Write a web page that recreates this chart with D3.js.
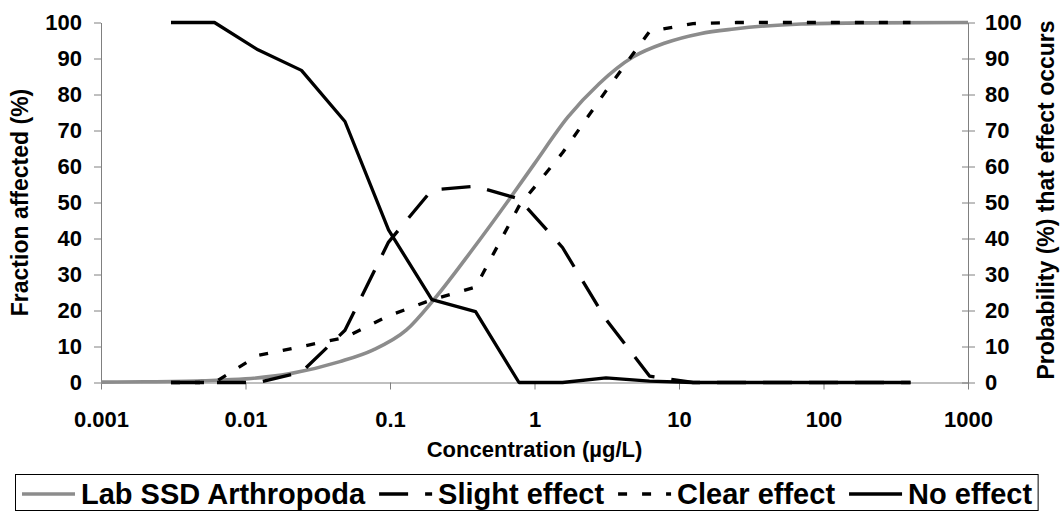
<!DOCTYPE html>
<html>
<head>
<meta charset="utf-8">
<script src="https://cdn.jsdelivr.net/npm/d3@7"></script>
<style>
  body { margin: 0; background: #fff; }
  svg { display: block; font-family: "Liberation Sans", Arial, sans-serif; font-weight: bold; }
</style>
</head>
<body>
<div id="container"></div>
<script>
const width = 1063;
const height = 512;

// x tick values and labels
const xTicks = [0.001, 0.01, 0.1, 1, 10, 100, 1000];
const xTickLabels = ["0.001", "0.01", "0.1", "1", "10", "100", "1000"];
const yTicks = [0, 10, 20, 30, 40, 50, 60, 70, 80, 90, 100];

// Lab SSD Arthropoda
const ssdConc = [0.001, 0.002, 0.005, 0.01, 0.02, 0.045, 0.076, 0.13, 0.2, 0.37, 0.7, 1, 1.7, 2.8, 4.8, 8, 14, 24, 70, 200, 1000];
const ssdValue = [0.1, 0.2, 0.5, 1.0, 2.4, 5.8, 9, 14.6, 22.9, 36.8, 52, 60.8, 73.7, 83, 90.4, 94.3, 96.9, 98.2, 99.6, 99.9, 100];

// test concentrations for the effect classes
const effectConc = [0.00305, 0.0061, 0.0122, 0.0244, 0.0488, 0.0977, 0.195, 0.391, 0.781, 1.5625, 3.125, 6.25, 12.5, 25, 50, 100, 200, 400];
const slightEffect = [0, 0, 0, 2.9, 14.5, 39, 53.5, 54.5, 51, 37.5, 17.5, 1.8, 0, 0, 0, 0, 0, 0];
const clearEffect = [0, 0, 7.5, 10, 12.5, 18.5, 23, 26.5, 49, 63.8, 81, 97.5, 99.7, 100, 100, 100, 100, 100];
const noEffect = [100, 100, 92.4, 86.7, 72.5, 42.4, 23, 19.7, 0, 0, 1.3, 0.4, 0, 0, 0, 0, 0, 0];

const seriesNames = ["Lab SSD Arthropoda", "Slight effect", "Clear effect", "No effect"];

const styles = [
  { color: "#8c8c8c", dash: null },
  { color: "#000", dash: "29,17" },
  { color: "#000", dash: "9,15" },
  { color: "#000", dash: null }
];

const svg = d3.select("#container").append("svg")
  .attr("width", width)
  .attr("height", height);

const x = d3.scaleLog().domain([0.001, 1000]).range([101, 968]);
const y = d3.scaleLinear().domain([0, 100]).range([382.5, 22.5]);

// axes
const axisColor = "#808080";

const bottom = svg.append("g")
  .attr("transform", `translate(0,${y(0)})`)
  .call(d3.axisBottom(x).tickValues(xTicks).tickFormat((d, i) => xTickLabels[i]).tickSize(7).tickSizeOuter(0));
bottom.select(".domain").attr("stroke", axisColor);
bottom.selectAll(".tick line").attr("stroke", axisColor);
bottom.selectAll(".tick text")
  .attr("font-size", 22).attr("font-family", null).attr("fill", "#000")
  .attr("y", 44.5).attr("dy", null);

const left = svg.append("g")
  .attr("transform", `translate(${x(0.001)},0)`)
  .call(d3.axisLeft(y).tickValues(yTicks).tickSize(7).tickPadding(12).tickSizeOuter(0));
left.select(".domain").attr("stroke", axisColor);
left.selectAll(".tick line").attr("stroke", axisColor);
left.selectAll(".tick text").attr("font-size", 22).attr("font-family", null).attr("fill", "#000");

const right = svg.append("g")
  .attr("transform", `translate(${x(1000)},0)`)
  .call(d3.axisRight(y).tickValues(yTicks).tickSize(7).tickPadding(10).tickSizeOuter(0));
right.select(".domain").attr("stroke", axisColor);
right.selectAll(".tick line").attr("stroke", axisColor).attr("x1", -6);
right.selectAll(".tick text").attr("font-size", 22).attr("font-family", null).attr("fill", "#000");

// axis titles
svg.append("text")
  .attr("transform", `translate(28,${(y(0) + y(100)) / 2}) rotate(-90)`)
  .attr("text-anchor", "middle")
  .attr("font-size", 23)
  .text("Fraction affected (%)");

svg.append("text")
  .attr("transform", `translate(1054,200) rotate(-90)`)
  .attr("text-anchor", "middle")
  .attr("font-size", 23)
  .text("Probability (%) that effect occurs");

svg.append("text")
  .attr("x", (x(0.001) + x(1000)) / 2)
  .attr("y", 457)
  .attr("text-anchor", "middle")
  .attr("font-size", 22)
  .text("Concentration (\u00b5g/L)");

// series
const line = d3.line()
  .x(d => x(d[0]))
  .y(d => y(d[1]));

const series = [
  d3.zip(ssdConc, ssdValue),
  d3.zip(effectConc, slightEffect),
  d3.zip(effectConc, clearEffect),
  d3.zip(effectConc, noEffect)
];

series.forEach((pts, i) => {
  svg.append("path")
    .datum(pts)
    .attr("fill", "none")
    .attr("stroke", styles[i].color)
    .attr("stroke-width", i === 0 ? 3.6 : 3.3)
    .attr("stroke-dasharray", styles[i].dash)
    .attr("stroke-linejoin", "round")
    .attr("d", i === 0 ? line.curve(d3.curveMonotoneX)(pts) : line.curve(d3.curveLinear)(pts));
});

// legend
const legend = svg.append("g");
const sampleLen = 53;
let lx = 22;
const ly = 494;
let lastEnd = lx;
seriesNames.forEach((name, i) => {
  legend.append("line")
    .attr("x1", lx).attr("x2", lx + sampleLen)
    .attr("y1", ly).attr("y2", ly)
    .attr("stroke", styles[i].color)
    .attr("stroke-width", i === 0 ? 3.6 : 3.3)
    .attr("stroke-dasharray", styles[i].dash);
  const t = legend.append("text")
    .attr("x", lx + sampleLen + 6)
    .attr("y", ly + 10)
    .attr("font-size", 29)
    .text(name);
  lastEnd = lx + sampleLen + 6 + t.node().getComputedTextLength();
  lx = lastEnd + 14;
});

legend.insert("rect", ":first-child")
  .attr("x", 15.5).attr("y", 474.5)
  .attr("width", lastEnd + 6 - 15.5)
  .attr("height", 36)
  .attr("fill", "#fff")
  .attr("stroke", "#000")
  .attr("stroke-width", 1);
</script>
</body>
</html>
